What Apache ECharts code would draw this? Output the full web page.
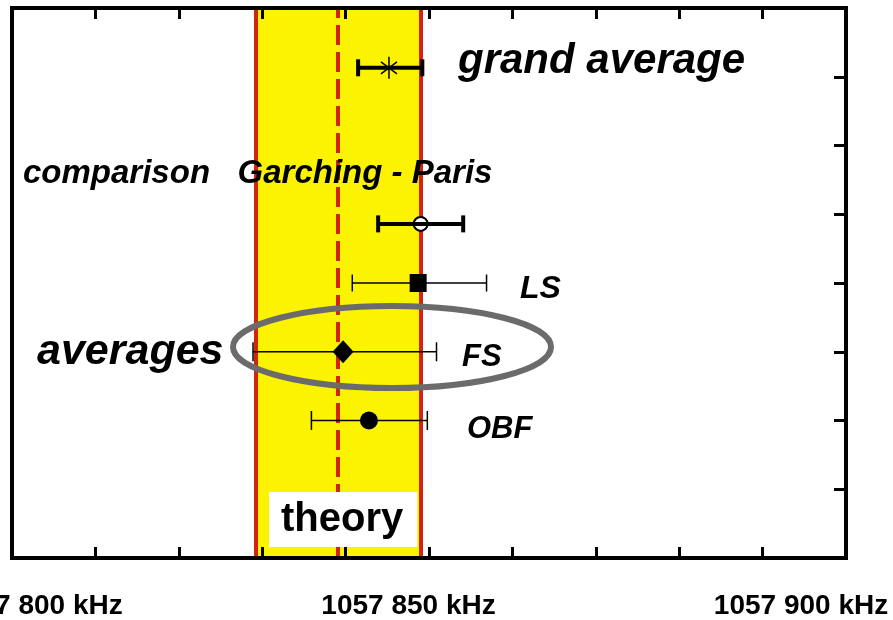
<!DOCTYPE html>
<html lang="en">
<head>
    <meta charset="UTF-8">
    <title>Lamb shift comparison</title>
    <style>
        html, body { margin: 0; padding: 0; background: #fff; }
        #main { width: 893px; height: 620px; }
    </style>
</head>
<body>
    <div id="main"></div>
    <script src="https://cdn.jsdelivr.net/npm/echarts@6/dist/echarts.min.js"></script>
    <script>
        // x axis (kHz) tick labels
        var xLabelValues = [1057800, 1057850, 1057900];
        var xLabelTexts = ['1057 800 kHz', '1057 850 kHz', '1057 900 kHz'];

        // measurements, top to bottom
        var rowNames = ['grand average', 'comparison', 'LS', 'FS', 'OBF'];
        var rowY = [7.13, 4.86, 4, 3, 2];
        var centerKHz = [1057845.2, 1057849.0, 1057848.7, 1057839.7, 1057842.8];
        var lowKHz = [1057841.5, 1057843.9, 1057840.8, 1057828.9, 1057835.9];
        var highKHz = [1057849.2, 1057854.1, 1057856.9, 1057850.9, 1057849.8];

        // theory value and its band
        var theoryKHz = 1057839.0;
        var theoryLow = 1057829.2;
        var theoryHigh = 1057849.0;

        var FONT = '"Liberation Sans", Arial, Helvetica, sans-serif';
        var RED = '#d2230f';
        var YELLOW = '#fbf300';

        // marker look per row
        var rowStyle = [
            { marker: 'asterisk', bar: 4, cap: 17 },
            { marker: 'open', bar: 4, cap: 17 },
            { marker: 'square', bar: 1.5, cap: 17 },
            { marker: 'diamond', bar: 1.5, cap: 19 },
            { marker: 'dot', bar: 1.5, cap: 19 }
        ];

        var barData = rowNames.map(function (n, i) {
            return [lowKHz[i], centerKHz[i], highKHz[i], rowY[i]];
        });

        function renderItem(params, api) {
            var yv = api.value(3);
            var pl = api.coord([api.value(0), yv]);
            var pc = api.coord([api.value(1), yv]);
            var ph = api.coord([api.value(2), yv]);
            var st = rowStyle[params.dataIndex];
            var x = pc[0], y = pc[1], h = st.cap / 2;
            var line = { stroke: '#000', lineWidth: st.bar };
            var kids = [];
            if (st.marker === 'open') {
                kids.push({ type: 'circle', shape: { cx: x, cy: y, r: 7 }, style: { fill: '#fff', stroke: '#000', lineWidth: 2 } });
            }
            kids.push({ type: 'line', shape: { x1: pl[0], y1: y, x2: ph[0], y2: y }, style: line });
            kids.push({ type: 'line', shape: { x1: pl[0], y1: y - h, x2: pl[0], y2: y + h }, style: line });
            kids.push({ type: 'line', shape: { x1: ph[0], y1: y - h, x2: ph[0], y2: y + h }, style: line });
            if (st.marker === 'asterisk') {
                var s = { stroke: '#000', lineWidth: 1.5 };
                kids.push({ type: 'line', shape: { x1: x, y1: y - 11, x2: x, y2: y + 11 }, style: s });
                kids.push({ type: 'line', shape: { x1: x - 8, y1: y - 6, x2: x + 8, y2: y + 6 }, style: s });
                kids.push({ type: 'line', shape: { x1: x - 8, y1: y + 6, x2: x + 8, y2: y - 6 }, style: s });
            } else if (st.marker === 'square') {
                kids.push({ type: 'rect', shape: { x: x - 8.5, y: y - 9, width: 17, height: 18 }, style: { fill: '#000' } });
            } else if (st.marker === 'diamond') {
                kids.push({ type: 'polygon', shape: { points: [[x, y - 11.5], [x + 10.5, y], [x, y + 11.5], [x - 10.5, y]] }, style: { fill: '#000' } });
            } else if (st.marker === 'dot') {
                kids.push({ type: 'circle', shape: { cx: x, cy: y, r: 9 }, style: { fill: '#000' } });
            }
            return { type: 'group', children: kids };
        }

        var axisLine = { show: true, onZero: false, lineStyle: { color: '#000', width: 4, cap: 'square' } };
        var tick = { show: true, inside: true, length: 11, lineStyle: { color: '#000', width: 3 } };

        var rich = {};
        var labelPad = [[0, 0, 0, 47], [0, 41, 0, 0], [0, 90, 0, 0]];
        xLabelTexts.forEach(function (t, i) {
            rich['l' + i] = { fontFamily: FONT, fontSize: 28, fontWeight: 'bold', color: '#000', padding: labelPad[i] };
        });

        function txt(text, x, y, size) {
            return {
                type: 'text', x: x, y: y, z: 50,
                style: { text: text, fill: '#000', font: 'italic bold ' + size + 'px ' + FONT, verticalAlign: 'middle', align: 'left' }
            };
        }

        var myChart = echarts.init(document.getElementById('main'));
        var option = {
            animation: false,
            backgroundColor: '#fff',
            grid: { left: 12, right: 47, top: 8, bottom: 62, outerBoundsMode: 'none' },
            xAxis: [{
                type: 'value', min: 1057800, max: 1057900, interval: 10, position: 'bottom',
                axisLine: axisLine, axisTick: tick, splitLine: { show: false },
                axisLabel: {
                    show: true, interval: 0, margin: 34, showMinLabel: true, showMaxLabel: true,
                    formatter: function (v) {
                        var i = xLabelValues.indexOf(v);
                        return i < 0 ? '' : '{l' + i + '|' + xLabelTexts[i] + '}';
                    },
                    rich: rich
                }
            }, {
                type: 'value', min: 1057800, max: 1057900, interval: 10, position: 'top',
                axisLine: axisLine, axisTick: tick, splitLine: { show: false }, axisLabel: { show: false }
            }],
            yAxis: [{
                type: 'value', min: 0, max: 8, interval: 1, position: 'left',
                axisLine: axisLine, axisTick: { show: false }, splitLine: { show: false }, axisLabel: { show: false }
            }, {
                type: 'value', min: 0, max: 8, interval: 1, position: 'right',
                axisLine: axisLine, axisTick: { show: true, inside: true, length: 12, lineStyle: { color: '#000', width: 3 } },
                splitLine: { show: false }, axisLabel: { show: false }
            }],
            series: [{
                name: 'theory band', type: 'line', data: [], z: -3, silent: true,
                markArea: {
                    silent: true, z: -3,
                    itemStyle: { color: YELLOW, borderWidth: 0 },
                    data: [[{ xAxis: theoryLow }, { xAxis: theoryHigh }]]
                }
            }, {
                name: 'theory lines', type: 'line', data: [], z: -2, silent: true,
                markLine: {
                    silent: true, z: -2, symbol: 'none', label: { show: false },
                    data: [
                        { xAxis: theoryLow, lineStyle: { color: RED, width: 4, type: 'solid' } },
                        { xAxis: theoryHigh, lineStyle: { color: RED, width: 4, type: 'solid' } },
                        { xAxis: theoryKHz, lineStyle: { color: RED, width: 4, type: [20, 7] } }
                    ]
                }
            }, {
                name: 'theory label', type: 'line', data: [], z: 3, silent: true,
                markArea: {
                    silent: true, z: 3,
                    itemStyle: { color: 'rgba(0,0,0,0)', borderWidth: 0 },
                    label: {
                        show: true, position: 'insideBottom', distance: 11, offset: [5, 0],
                        formatter: 'theory', color: '#000', fontFamily: FONT, fontSize: 40, fontWeight: 'bold',
                        lineHeight: 49, backgroundColor: '#fff', padding: [3, 14, 3, 12]
                    },
                    data: [[{ xAxis: theoryLow }, { xAxis: theoryHigh }]]
                }
            }, {
                name: 'measurements', type: 'custom', z: 5,
                renderItem: renderItem,
                encode: { x: [0, 1, 2], y: 3 },
                data: barData
            }],
            graphic: [
                txt('grand average', 458, 61, 42),
                txt('comparison   Garching - Paris', 23, 174, 33),
                txt('averages', 37, 352, 43),
                txt('LS', 520, 289, 32),
                txt('FS', 462, 357, 31),
                txt('OBF', 467, 429, 31),
                {
                    type: 'ellipse', z: 60,
                    shape: { cx: 392, cy: 347, rx: 159, ry: 41 },
                    style: { fill: 'none', stroke: '#6b6b6b', lineWidth: 6 }
                }
            ]
        };
        myChart.setOption(option);
    </script>
</body>
</html>
